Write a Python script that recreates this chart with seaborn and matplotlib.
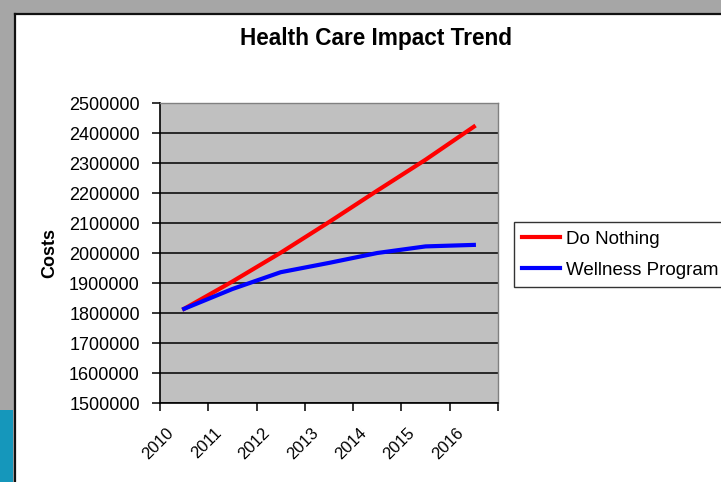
import numpy as np
import pandas as pd
import matplotlib
matplotlib.use("Agg")
import matplotlib.pyplot as plt
import seaborn as sns
from matplotlib.patches import Rectangle
from matplotlib.lines import Line2D
from matplotlib.transforms import ScaledTranslation
from matplotlib.ticker import StrMethodFormatter

# ---- data ----
years = [2010, 2011, 2012, 2013, 2014, 2015, 2016]
do_nothing = [1814000, 1905000, 2001000, 2103000, 2208000, 2311000, 2421000]
wellness = [1814000, 1880000, 1936000, 1967000, 2000000, 2022000, 2027000]
series_names = ["Do Nothing", "Wellness Program"]
series_colors = ["#FF0000", "#0000FF"]
y_ticks = [1500000, 1600000, 1700000, 1800000, 1900000, 2000000,
           2100000, 2200000, 2300000, 2400000, 2500000]
year_labels = ["2010", "2011", "2012", "2013", "2014", "2015", "2016"]
title = "Health Care Impact Trend"
y_label = "Costs"

df = pd.DataFrame({
    "Year": years * 2,
    "Cost": do_nothing + wellness,
    "Scenario": [series_names[0]] * len(years) + [series_names[1]] * len(years),
})

plt.rcParams["font.family"] = ["Liberation Sans", "DejaVu Sans"]

W, H = 721, 482
fig = plt.figure(figsize=(W / 100, H / 100), dpi=100)
fig.patch.set_facecolor("#A6A6A6")

# white chart background with dark border (screenshot frame)
fig.patches.append(Rectangle((14 / W, 0), 1, 1 - 14 / H, transform=fig.transFigure,
                             facecolor="white", edgecolor="none", zorder=-10))
fig.patches.append(Rectangle((0, 0), 13.5 / W, 72 / H, transform=fig.transFigure,
                             facecolor="#1597BB", edgecolor="none", zorder=-10))
fig.lines.append(Line2D([14.5 / W, 14.5 / W], [0, 1 - 13.5 / H], transform=fig.transFigure,
                        color="#111111", lw=1.6))
fig.lines.append(Line2D([14.5 / W, 1], [1 - 13.5 / H, 1 - 13.5 / H], transform=fig.transFigure,
                        color="#111111", lw=1.6))

ax = fig.add_axes([160 / W, 1 - 403 / H, 338 / W, 300 / H])
ax.set_facecolor("#C0C0C0")

sns.lineplot(data=df, x="Year", y="Cost", hue="Scenario", hue_order=series_names,
             palette=dict(zip(series_names, series_colors)), linewidth=3.0,
             sort=False, ax=ax, legend=True)

handles, labels = ax.get_legend_handles_labels()
if ax.get_legend() is not None:
    ax.get_legend().remove()
for h in handles:
    h.set_linewidth(3.0)

# axes limits / ticks
ax.set_xlim(years[0] - 0.5, years[-1] + 0.5)
ax.set_ylim(y_ticks[0], y_ticks[-1])
ax.set_yticks(y_ticks)
ax.yaxis.set_major_formatter(StrMethodFormatter("{x:.0f}"))
ax.tick_params(axis="y", which="major", length=6, width=1.1, pad=8.5,
               labelsize=13, color="black", direction="out")

bounds = [y - 0.5 for y in years] + [years[-1] + 0.5]
ax.set_xticks(bounds)
ax.set_xticklabels([])
ax.set_xticks(years, minor=True)
ax.set_xticklabels(year_labels, minor=True, rotation=45, ha="right", va="center",
                   rotation_mode="anchor", fontsize=12)
ax.tick_params(axis="x", which="major", length=6, width=1.1, color="black", direction="out")
ax.tick_params(axis="x", which="minor", length=0, pad=19.5)
offset = ScaledTranslation(-0.13, 0, fig.dpi_scale_trans)
for lab in ax.get_xticklabels(minor=True):
    lab.set_transform(lab.get_transform() + offset)

ax.set_xlabel("")
ax.set_ylabel(y_label, fontsize=13, fontweight="bold")
ax.yaxis.set_label_coords((58 - 160) / 338, 0.5)

ax.yaxis.grid(True, color="black", linewidth=1.1)
ax.xaxis.grid(False)

for s in ["left", "bottom"]:
    ax.spines[s].set_color("black")
    ax.spines[s].set_linewidth(1.2)
for s in ["top", "right"]:
    ax.spines[s].set_color("#808080")
    ax.spines[s].set_linewidth(1.0)

fig.text(375.5 / W, 1 - 39 / H, title, ha="center", va="center",
         fontsize=16.3, fontweight="bold")

leg = fig.legend(handles, labels, loc="upper left",
                 bbox_to_anchor=(514 / W, 1 - 222 / H), bbox_transform=fig.transFigure,
                 fontsize=13.5, frameon=True, fancybox=False, borderaxespad=0,
                 borderpad=0.45, handlelength=2.0, handletextpad=0.35,
                 labelspacing=0.75)
leg.get_frame().set_edgecolor("black")
leg.get_frame().set_linewidth(1.0)
leg.get_frame().set_facecolor("white")

fig.savefig("out.png", dpi=100, facecolor=fig.get_facecolor())
